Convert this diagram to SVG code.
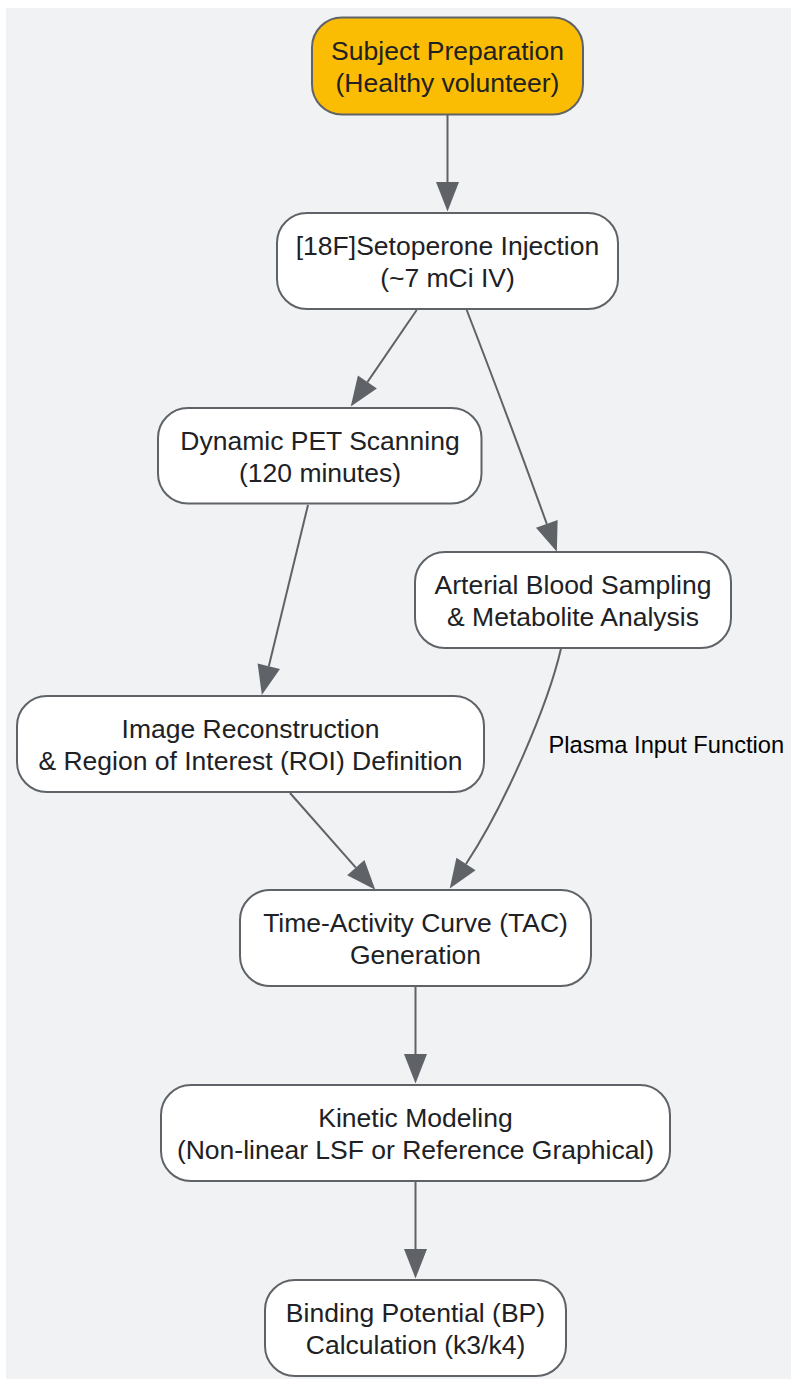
<svg xmlns="http://www.w3.org/2000/svg" width="791" height="1380" viewBox="0 0 791 1380">
<style>
.node rect{fill:#ffffff;stroke:#5f6368;stroke-width:2}
.node.start rect{fill:#fbbc04}
.node text{font-family:"Liberation Sans",Arial,sans-serif;font-size:26.5px;fill:#202124;text-anchor:middle}
.edge{fill:none;stroke:#5f6368;stroke-width:2;marker-end:url(#arrow)}
.elabel{font-family:"Liberation Sans",Arial,sans-serif;font-size:23.7px;fill:#000000}
</style>
<defs>
<marker id="arrow" markerUnits="userSpaceOnUse" markerWidth="30" markerHeight="24" refX="0" refY="11.5" orient="auto" overflow="visible">
<path d="M0,0 L29.5,11.5 L0,23 z" fill="#5f6368"/>
</marker>
</defs>
<rect x="6" y="8" width="785" height="1371" fill="#f1f2f4"/>
<g id="connectors">
<path class="edge" d="M447.5,115 L447.5,182"/>
<path class="edge" d="M416.7,310 L367.4,382.1"/>
<path class="edge" d="M466.7,310 C490,370 520,450 546.8,523.9"/>
<path class="edge" d="M308,505 L268.8,666.3"/>
<path class="edge" d="M561,648.5 C548,705 505,805 466,864"/>
<path class="edge" d="M290,793 L355.8,867.7"/>
<path class="edge" d="M415.5,987 L415.5,1054"/>
<path class="edge" d="M415.5,1181 L415.5,1249"/>
<text class="elabel" x="548.5" y="753">Plasma Input Function</text>
</g>
<g id="n1" class="node start">
<rect x="312" y="17.5" width="271" height="97" rx="30"/>
<text x="447.5" y="60">Subject Preparation</text>
<text x="447.5" y="92">(Healthy volunteer)</text>
</g>
<g id="n2" class="node">
<rect x="277" y="213" width="341" height="96" rx="30"/>
<text x="447.5" y="255">[18F]Setoperone Injection</text>
<text x="447.5" y="287">(~7 mCi IV)</text>
</g>
<g id="n3" class="node">
<rect x="158" y="408" width="323.5" height="95.5" rx="30"/>
<text x="320" y="449.5">Dynamic PET Scanning</text>
<text x="320" y="481.5">(120 minutes)</text>
</g>
<g id="n4" class="node">
<rect x="415" y="552" width="316" height="96" rx="30"/>
<text x="573" y="594">Arterial Blood Sampling</text>
<text x="573" y="626">&amp; Metabolite Analysis</text>
</g>
<g id="n5" class="node">
<rect x="17" y="696" width="467" height="96" rx="30"/>
<text x="250.5" y="738">Image Reconstruction</text>
<text x="250.5" y="770">&amp; Region of Interest (ROI) Definition</text>
</g>
<g id="n6" class="node">
<rect x="240" y="890" width="351" height="96" rx="30"/>
<text x="415.5" y="932">Time-Activity Curve (TAC)</text>
<text x="415.5" y="964">Generation</text>
</g>
<g id="n7" class="node">
<rect x="161" y="1085" width="509" height="96" rx="30"/>
<text x="415.5" y="1127">Kinetic Modeling</text>
<text x="415.5" y="1159">(Non-linear LSF or Reference Graphical)</text>
</g>
<g id="n8" class="node">
<rect x="265" y="1280" width="301" height="96" rx="30"/>
<text x="415.5" y="1322">Binding Potential (BP)</text>
<text x="415.5" y="1354">Calculation (k3/k4)</text>
</g>
</svg>
